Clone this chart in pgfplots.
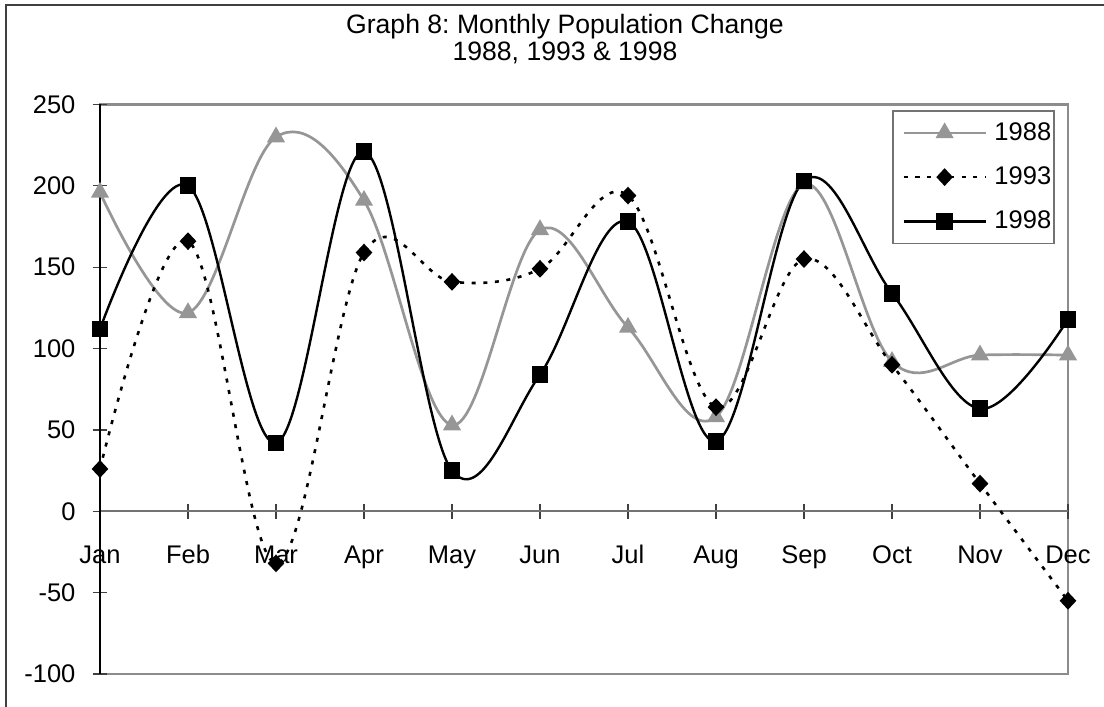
\documentclass[border=0pt]{standalone}
\usepackage{fontspec}
\setmainfont{Liberation Sans}
\usepackage{pgfplots}
\pgfplotsset{compat=1.18}
\frenchspacing

\definecolor{grey88}{RGB}{150,150,150}

% monthly values, x = 0 (Jan) ... 11 (Dec)
\newcommand{\tickfont}{\fontsize{12.75}{15}\selectfont}

\begin{document}
\begin{tikzpicture}
\begin{axis}[
    at={(0,0)}, anchor=south west,
    scale only axis,
    width=484pt, height=284.75pt,
    xmin=0, xmax=11, ymin=-100, ymax=250,
    axis x line=middle, axis y line=left,
    hide obscured x ticks=false, hide obscured y ticks=false,
    x axis line style={-, draw=black!55, line width=1pt},
    y axis line style={-, draw=black, line width=0.8pt},
    axis background/.style={draw=black!45, line width=1.2pt},
    xtick={0,...,11},
    xticklabels={Jan,Feb,Mar,Apr,May,Jun,Jul,Aug,Sep,Oct,Nov,Dec},
    ytick={-100,-50,0,50,100,150,200,250},
    yticklabels={-100,-50,0,50,100,150,200,250},
    tick align=center,
    major tick length=7.5pt,
    xtick style={draw=black!75, line width=0.6pt},
    ytick style={draw=black!75, line width=0.6pt},
    tick label style={font=\tickfont},
    xticklabel style={anchor=base, yshift=-22.5pt},
    yticklabel style={anchor=east, xshift=-5pt},
    clip=false,
    legend cell align=left,
    legend style={
        at={(1,1)}, anchor=north east, xshift=-6.5pt, yshift=-2.75pt,
        draw=black!55, line width=0.8pt, inner sep=1.25pt, row sep=2.5pt,
        font=\tickfont,
        nodes={inner xsep=0.25pt, inner ysep=4.6pt},
    },
    legend image code/.code={
        \path (-3.5pt,0pt) (44.5pt,0pt);
        \draw[mark repeat=2, mark phase=2]
            plot coordinates {(0pt,0pt) (20.5pt,0pt) (41pt,0pt)};
    },
]

\addplot[grey88, line width=1.35pt, smooth, tension=0.6,
    mark=triangle*, mark size=3.9pt, mark options={solid, fill=grey88}]
    coordinates {
    (0,196) (1,122) (2,230) (3,191) (4,53) (5,173)
    (6,113) (7,58) (8,201) (9,92) (10,96) (11,96)
};
\addlegendentry{1988}

\addplot[black, line width=1.3pt, dash pattern=on 2pt off 3.8pt, smooth, tension=0.6,
    mark=diamond*, mark size=3.5pt, mark options={solid, fill=black, xscale=1.25}]
    coordinates {
    (0,26) (1,166) (2,-32) (3,159) (4,141) (5,149)
    (6,194) (7,64) (8,155) (9,90) (10,17) (11,-55)
};
\addlegendentry{1993}

\addplot[black, line width=1.2pt, smooth, tension=0.6,
    mark=square*, mark size=3.6pt, mark options={solid, fill=black}]
    coordinates {
    (0,112) (1,200) (2,42) (3,221) (4,25) (5,84)
    (6,178) (7,43) (8,203) (9,134) (10,63) (11,118)
};
\addlegendentry{1998}

\end{axis}

\pgfresetboundingbox
\path[use as bounding box] (-50pt,-16.5pt) rectangle (502pt,337pt);

% chart area frame (only left and top edges fall inside the picture)
\draw[black!75, line width=1pt] (-46.8pt,-40pt) -- (-46.8pt,334.5pt) -- (560pt,334.5pt);

\node[font=\fontsize{13.3}{15}\selectfont, anchor=base] at (232.5pt,320.35pt)
    {Graph 8: Monthly Population Change};
\node[font=\fontsize{13.3}{15}\selectfont, anchor=base] at (232.5pt,306.5pt)
    {1988, 1993 \& 1998};
\end{tikzpicture}
\end{document}
